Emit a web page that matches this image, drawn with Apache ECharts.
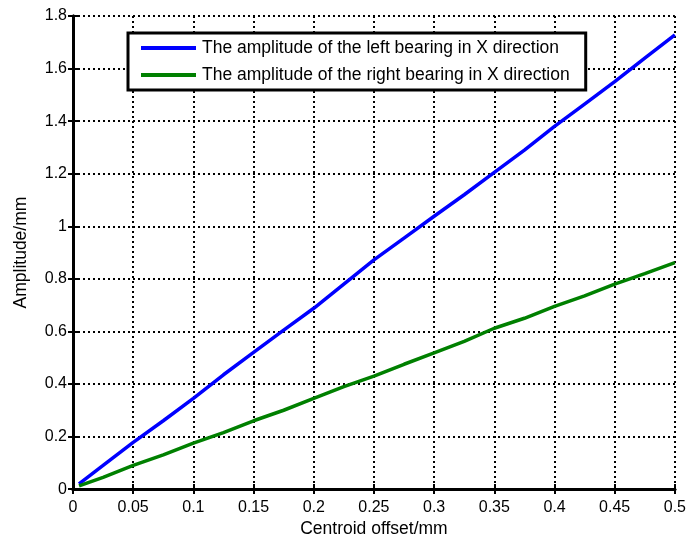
<!DOCTYPE html>
<html><head><meta charset="utf-8">
<script src="https://cdn.jsdelivr.net/npm/echarts@6/dist/echarts.min.js"></script>
<style>html,body{margin:0;padding:0;background:#fff}#c{width:689px;height:543px}</style>
</head><body><div id="c"></div>
<script>
const xOffset = [0.005,0.025,0.05,0.075,0.1,0.125,0.15,0.175,0.2,0.225,0.25,0.275,0.3,0.325,0.35,0.375,0.4,0.425,0.45,0.475,0.5];
const leftBearing = [0.02,0.09,0.178,0.26,0.345,0.435,0.52,0.605,0.688,0.78,0.872,0.955,1.038,1.12,1.205,1.29,1.38,1.465,1.55,1.64,1.728];
const rightBearing = [0.012,0.045,0.09,0.13,0.175,0.215,0.26,0.3,0.345,0.39,0.43,0.475,0.518,0.562,0.612,0.65,0.695,0.735,0.78,0.82,0.862];
const seriesNames = ['The amplitude of the left bearing in X direction','The amplitude of the right bearing in X direction'];
const xName = 'Centroid offset/mm';
const yName = 'Amplitude/mm';

const font = 'Liberation Sans, Arial, sans-serif';
const chart = echarts.init(document.getElementById('c'), null, {renderer:'canvas'});
const pair = (xs, ys) => xs.map((x,i)=>[x, ys[i]]);
const hiddenAxis = (pos, isX) => ({
  type:'value', position:pos, min:0, max: isX?0.5:1.8, interval: isX?0.05:0.2,
  axisLine:{show:true, lineStyle:{color:'#000', width:3}},
  axisTick:{show:true, inside:true, length:5, lineStyle:{color:'#000', width:2}},
  axisLabel:{show:false}, splitLine:{show:false}
});
chart.setOption({
  animation:false,
  backgroundColor:'#fff',
  grid:{left:73, top:16, right:14, bottom:53, show:false},
  legend:{
    show:true, left:128, top:33, orient:'vertical',
    padding:[6,16,6,13], itemGap:9, itemWidth:55, itemHeight:4,
    backgroundColor:'#fff', borderColor:'#000', borderWidth:3,
    icon:'rect',
    textStyle:{fontFamily:font, fontSize:17.5, lineHeight:18, color:'#000', padding:[0,0,0,1]},
    data: seriesNames
  },
  xAxis:[{
    type:'value', min:0, max:0.5, interval:0.05, position:'bottom',
    name:xName, nameLocation:'middle', nameGap:28,
    nameTextStyle:{fontFamily:font, fontSize:17.5, color:'#000'},
    axisLine:{show:true, lineStyle:{color:'#000', width:3}},
    axisTick:{show:true, inside:true, length:5, lineStyle:{color:'#000', width:2}},
    axisLabel:{fontFamily:font, fontSize:16, color:'#000', margin:10},
    splitLine:{show:true, lineStyle:{color:'#000', width:2, type:[2,3]}}
  }, hiddenAxis('top', true)],
  yAxis:[{
    type:'value', min:0, max:1.8, interval:0.2, position:'left',
    name:yName, nameLocation:'middle', nameGap:43,
    nameTextStyle:{fontFamily:font, fontSize:17.5, color:'#000'},
    axisLine:{show:true, lineStyle:{color:'#000', width:3}},
    axisTick:{show:true, inside:true, length:5, lineStyle:{color:'#000', width:2}},
    axisLabel:{fontFamily:font, fontSize:16, color:'#000', margin:6},
    splitLine:{show:true, lineStyle:{color:'#000', width:2, type:[2,3]}}
  }, hiddenAxis('right', false)],
  series:[
    {name:seriesNames[0], type:'line', data:pair(xOffset,leftBearing), showSymbol:false, symbol:'none',
     lineStyle:{color:'#0000ff', width:3.5}, itemStyle:{color:'#0000ff'}},
    {name:seriesNames[1], type:'line', data:pair(xOffset,rightBearing), showSymbol:false, symbol:'none',
     lineStyle:{color:'#008000', width:3.5}, itemStyle:{color:'#008000'}}
  ]
});
</script></body></html>
